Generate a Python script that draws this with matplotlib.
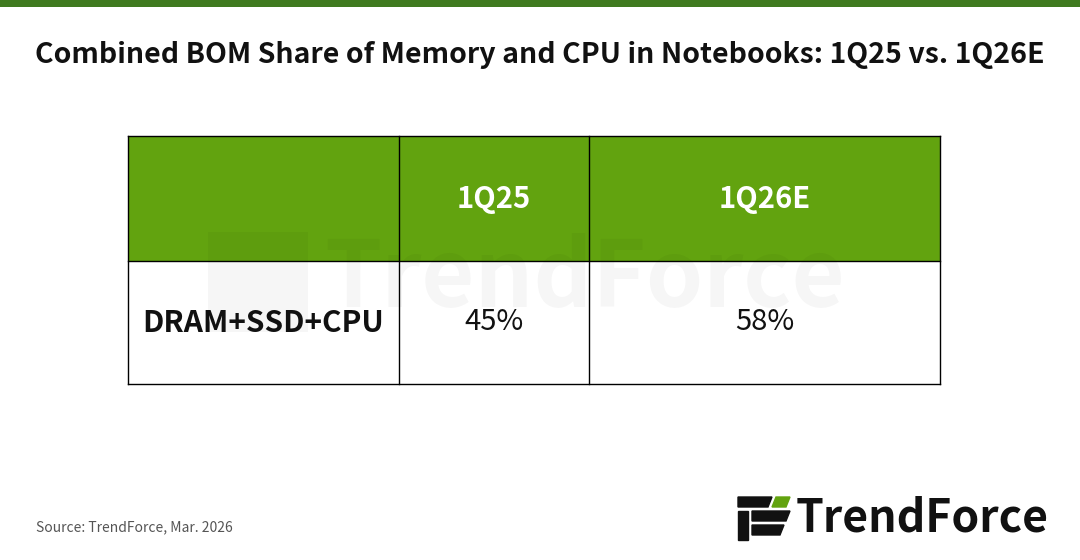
import matplotlib
matplotlib.use("Agg")
import matplotlib.pyplot as plt
from matplotlib.patches import Rectangle, Polygon

title = "Combined BOM Share of Memory and CPU in Notebooks: 1Q25 vs. 1Q26E"
columns = ["", "1Q25", "1Q26E"]
row_label = "DRAM+SSD+CPU"
values = ["45%", "58%"]
source = "Source: TrendForce, Mar. 2026"

W, H = 1080, 560
GREEN = "#62a30f"
FONT = ["Noto Sans CJK SC", "DejaVu Sans"]

fig = plt.figure(figsize=(W / 100, H / 100), dpi=100)
ax = fig.add_axes([0, 0, 1, 1])
ax.set_xlim(0, W)
ax.set_ylim(H, 0)
ax.axis("off")

# top stripe
ax.add_patch(Rectangle((0, 0), W, 7, color="#3f7a1f", lw=0))
ax.text(W / 2, 55, title, ha="center", va="center", fontsize=20.5,
        fontweight="bold", family=FONT, color="#111")

# faint watermark
ax.text(585, 280, "TrendForce", ha="center", va="center", fontsize=66,
        fontweight="bold", family=FONT, color="#000", alpha=0.035, zorder=5)
ax.add_patch(Rectangle((208, 232), 100, 100, color="#000", alpha=0.035, lw=0, zorder=5))

# table
col_x = [128, 399, 589, 940]
top, mid, bot = 136, 261, 384
ax.add_patch(Rectangle((col_x[0], top), col_x[-1] - col_x[0], mid - top,
                       facecolor=GREEN, lw=0, zorder=1))
for i, name in enumerate(columns):
    cx = (col_x[i] + col_x[i + 1]) / 2
    ax.text(cx, (top + mid) / 2, name, ha="center", va="center", fontsize=21,
            fontweight="bold", family=FONT, color="white", zorder=6)
ax.text((col_x[0] + col_x[1]) / 2, (mid + bot) / 2, row_label, ha="center",
        va="center", fontsize=21.5, fontweight="bold", family=FONT, color="#111", zorder=6)
for i, v in enumerate(values):
    cx = (col_x[i + 1] + col_x[i + 2]) / 2
    ax.text(cx, (mid + bot) / 2, v, ha="center", va="center", fontsize=21,
            family=FONT, color="#111", zorder=6)
for x in col_x:
    ax.plot([x, x], [top, bot], color="black", lw=1, zorder=7)
for y in (top, mid, bot):
    ax.plot([col_x[0], col_x[-1]], [y, y], color="black", lw=1, zorder=7)

ax.text(36, 527, source, ha="left", va="center", fontsize=10,
        family=FONT, color="#555")

# logo
ax.add_patch(Polygon([(738, 497), (772, 497), (768, 507), (738, 507)], color="#111"))
ax.add_patch(Polygon([(738, 511), (748, 511), (748, 540), (738, 540)], color="#111"))
ax.add_patch(Polygon([(752, 511), (790, 511), (786, 521), (752, 521)], color="#111"))
ax.add_patch(Polygon([(752, 525), (784, 525), (780, 535), (752, 535)], color="#111"))
ax.add_patch(Polygon([(776, 497), (790, 497), (786, 507), (772, 507)], color=GREEN))
ax.text(796, 519, "TrendForce", ha="left", va="center", fontsize=32,
        fontweight="bold", family=FONT, color="#111")

fig.savefig("out.png", dpi=100)
